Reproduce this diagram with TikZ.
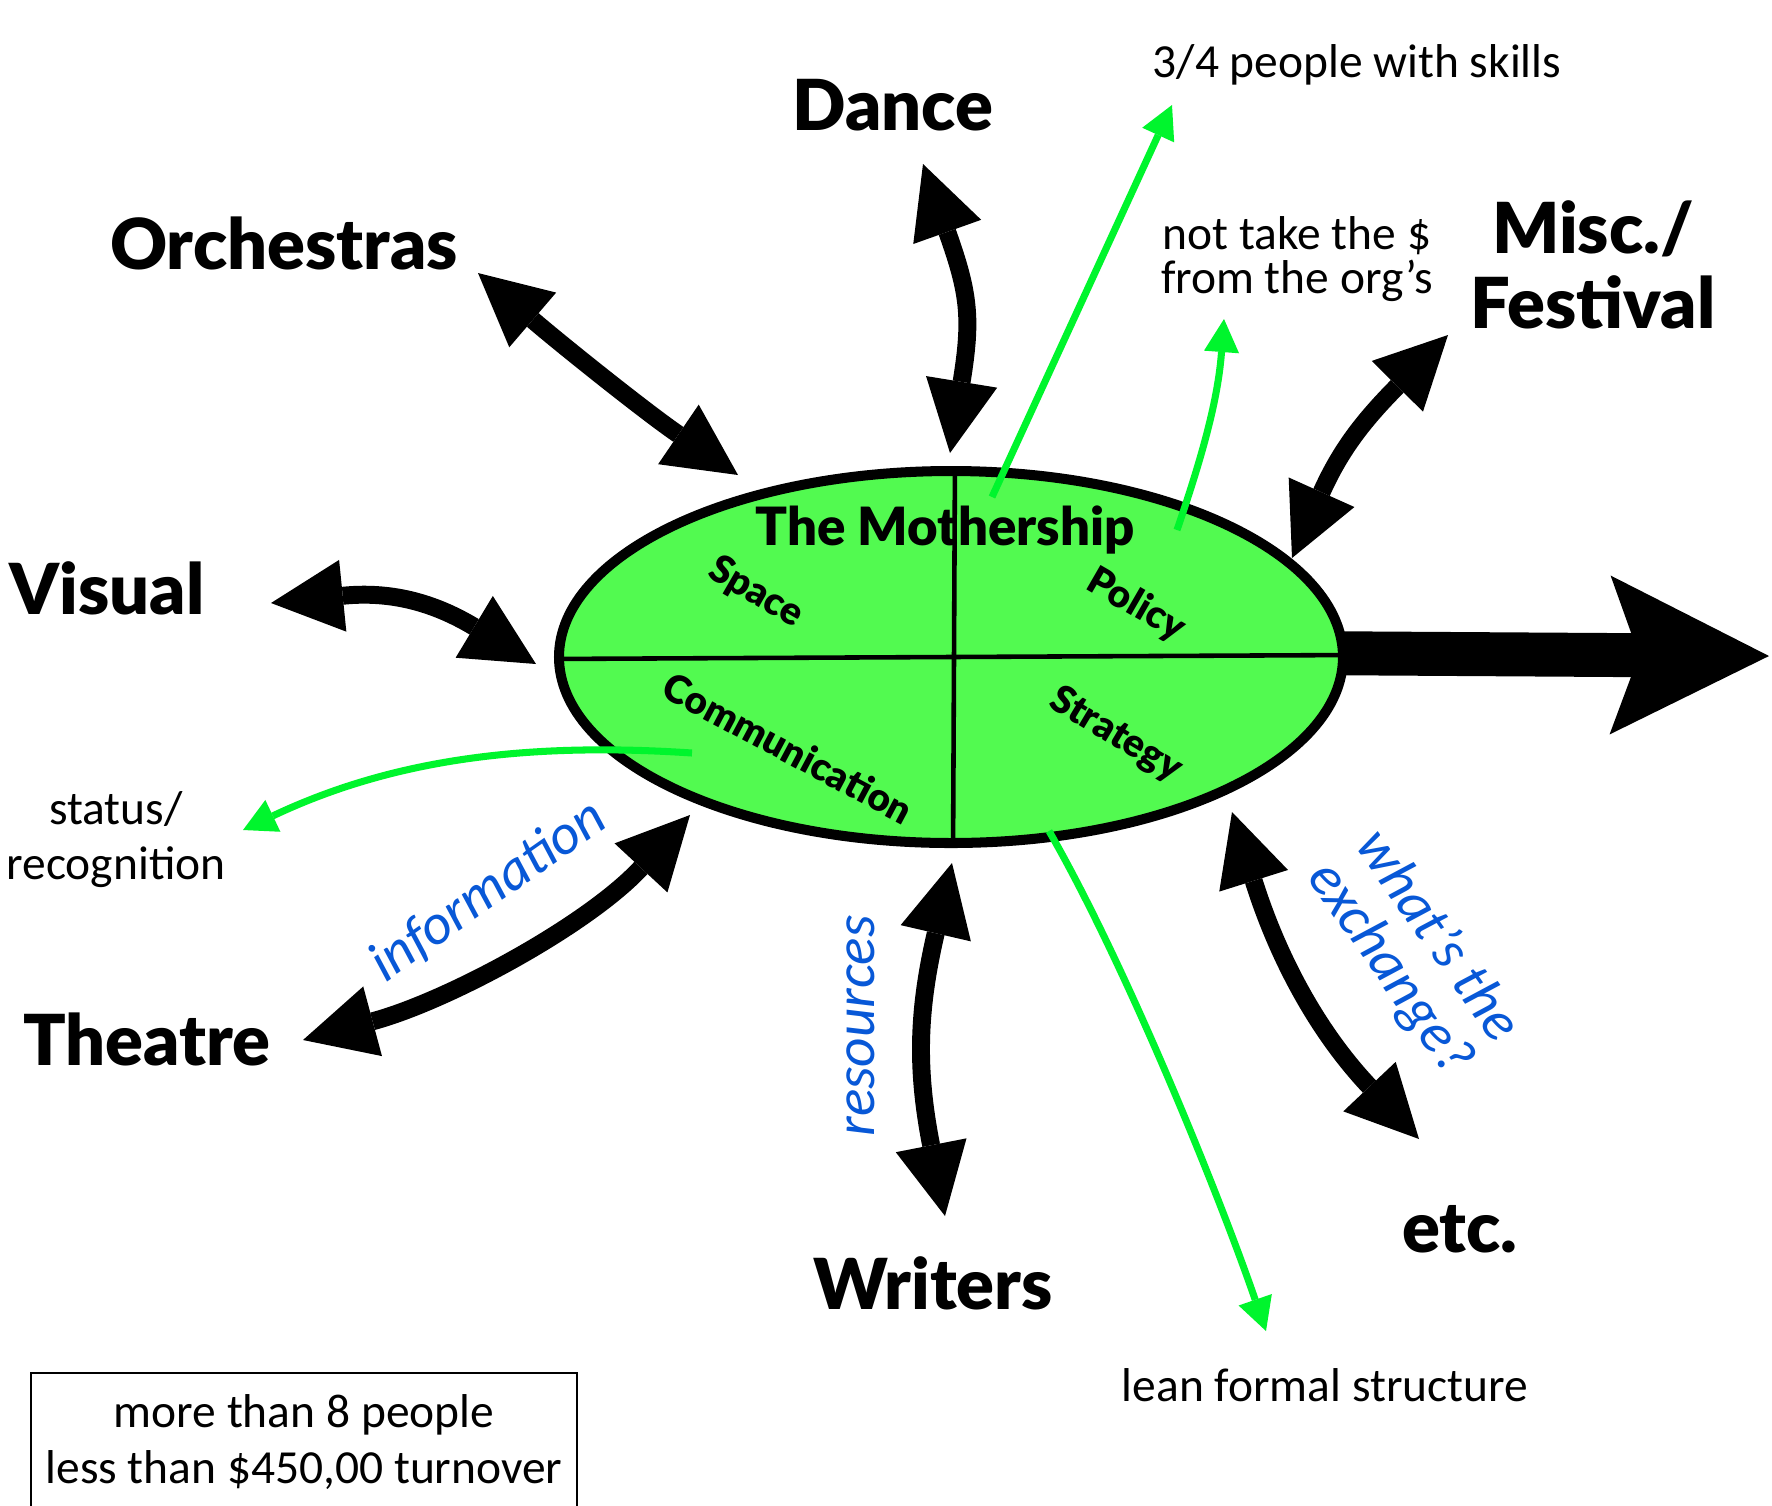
\documentclass[tikz,border=0pt]{standalone}
\usepackage{fontspec}
\setmainfont{Carlito}
\IfFontExistsTF{Lato Black}
  {\newfontfamily\labfontX{Lato Black}\newcommand\labfont{\labfontX}}
  {\newfontfamily\labfontX{Lato}\newcommand\labfont{\labfontX\bfseries}}
\usetikzlibrary{arrows.meta}
\definecolor{hubgreen}{RGB}{82,250,80}
\definecolor{linkgreen}{RGB}{0,245,45}
\definecolor{noteblue}{RGB}{8,88,215}
\begin{document}
\begin{tikzpicture}[x=0.01cm,y=-0.01cm,
  biglabel/.style={font=\labfont\fontsize{20}{21.3}\selectfont, inner sep=0pt, align=center},
  quadlabel/.style={font=\labfont\fontsize{11}{13}\selectfont, inner sep=0pt},
  hubtitle/.style={font=\labfont\fontsize{15}{17}\selectfont, inner sep=0pt},
  note/.style={font=\fontsize{13.5}{16}\selectfont, inner sep=0pt, align=center},
  bluenote/.style={font=\itshape\fontsize{16.3}{16.3}\selectfont, text=noteblue, inner sep=0pt, align=center},
  twoway/.style={line width=5.1pt,
    {Triangle[length=20.5pt,width=20.5pt,line width=0pt]}-{Triangle[length=20.5pt,width=20.5pt,line width=0pt]}},
  greenarrow/.style={draw=linkgreen, line width=2pt, -{Triangle[length=9.4pt,width=10pt,line width=0pt]}},
]
\useasboundingbox[fill=white] (0,0) rectangle (1772,1505);

% hub
\coordinate (hub) at (951,657);
\coordinate (bigstart) at (1300,653);
\coordinate (bigtip) at (1769,656);
\draw[line width=12.5pt, -{Stealth[length=45.2pt,width=45.2pt,inset=8.25pt,line width=0pt]}] (bigstart) -- (bigtip);

\path[fill=hubgreen] (hub) ellipse [x radius=392, y radius=186];
\begin{scope}
  \clip (hub) ellipse [x radius=392, y radius=186];
  \draw[line width=1.3pt] (955,455) -- (953,860);
  \draw[line width=1.3pt] (545,659) -- (1355,655);
\end{scope}
\draw[line width=2.85pt] (hub) ellipse [x radius=392, y radius=186];

\node[hubtitle, anchor=base] (title) at (945,545) {The Mothership};
\node[quadlabel, rotate=-30] (space) at (756,593) {Space};
\node[quadlabel, rotate=-30] (policy) at (1136,605) {Policy};
\node[quadlabel, rotate=-28] (comm) at (788,748) {Communication};
\node[quadlabel, rotate=-31] (strat) at (1116,735) {Strategy};

% outer labels
\node[biglabel, anchor=base] (dance) at (893,130) {Dance};
\node[biglabel, anchor=base] (orch) at (284,269) {Orchestras};
\node[biglabel, anchor=base] (visual) at (107,614) {Visual};
\node[biglabel, anchor=base] (theatre) at (147,1065) {Theatre};
\node[biglabel, anchor=base] (writers) at (933,1309) {Writers};
\node[biglabel, anchor=base] (etc) at (1460,1252) {etc.};
\node[biglabel] (misc) at (1593,265) {Misc./\\Festival};

% arrow end points
\coordinate (danceA) at (923,164);  \coordinate (danceB) at (950,453);
\coordinate (orchA) at (478,273);   \coordinate (orchB) at (738,475);
\coordinate (visA) at (271,603);    \coordinate (visB) at (536,664);
\coordinate (theaA) at (303,1040);  \coordinate (theaB) at (690,815);
\coordinate (writA) at (952,863);   \coordinate (writB) at (945,1216);
\coordinate (etcA) at (1232,812);   \coordinate (etcB) at (1419,1139);
\coordinate (miscA) at (1292,558);  \coordinate (miscB) at (1448,335);

\draw[twoway] (danceA) .. controls (969,293) and (972,318) .. (danceB);
\draw[twoway] (orchA) .. controls (562,345) and (647,413) .. (orchB);
\draw[twoway] (visA) .. controls (390,591) and (433,602) .. (visB);
\draw[twoway] (theaA) .. controls (448,1001) and (588,925) .. (theaB);
\draw[twoway] (writA) .. controls (918,1010) and (916,1068) .. (writB);
\draw[twoway] (etcA) .. controls (1277,955) and (1316,1030) .. (etcB);
\draw[twoway] (miscA) .. controls (1341,449) and (1364,420) .. (miscB);

% notes
\node[note, anchor=base] (skills) at (1357,77) {3/4 people with skills};
\node[note, font=\fontsize{13.5}{12.7}\selectfont] (nottake) at (1297,259) {not take the \$\\from the org’s};
\node[note, font=\fontsize{13.5}{15.6}\selectfont] (status) at (116,840) {status/\\recognition};
\node[note, anchor=base] (lean) at (1325,1401) {lean formal structure};
\node[note, draw, line width=0.6pt, minimum width=155.3pt, minimum height=39.3pt] (box) at (304,1442)
  {more than 8 people\\less than \$450,00 turnover};

% green links
\coordinate (g1s) at (992,497);
\coordinate (g1e) at (1172,105);
\coordinate (g2s) at (1177,530);
\coordinate (g2e) at (1224,319);
\coordinate (g3s) at (692,753);
\coordinate (g3e) at (243,830);
\coordinate (g4s) at (1049,831);
\coordinate (g4e) at (1266,1331);
\draw[greenarrow] (g1s) -- (g1e);
\draw[greenarrow] (g2s) .. controls (1203,454) and (1218,399) .. (g2e);
\draw[greenarrow] (g3s) .. controls (527,742) and (393,759) .. (g3e);
\draw[greenarrow] (g4s) .. controls (1124,961) and (1217,1189) .. (g4e);

% blue labels
\node[bluenote, rotate=35] (info) at (488,891) {information};
\node[bluenote, rotate=90] (res) at (861,1026) {resources};
\node[bluenote, rotate=-55] (exch) at (1413,953) {what’s the\\exchange?};
\end{tikzpicture}
\end{document}
